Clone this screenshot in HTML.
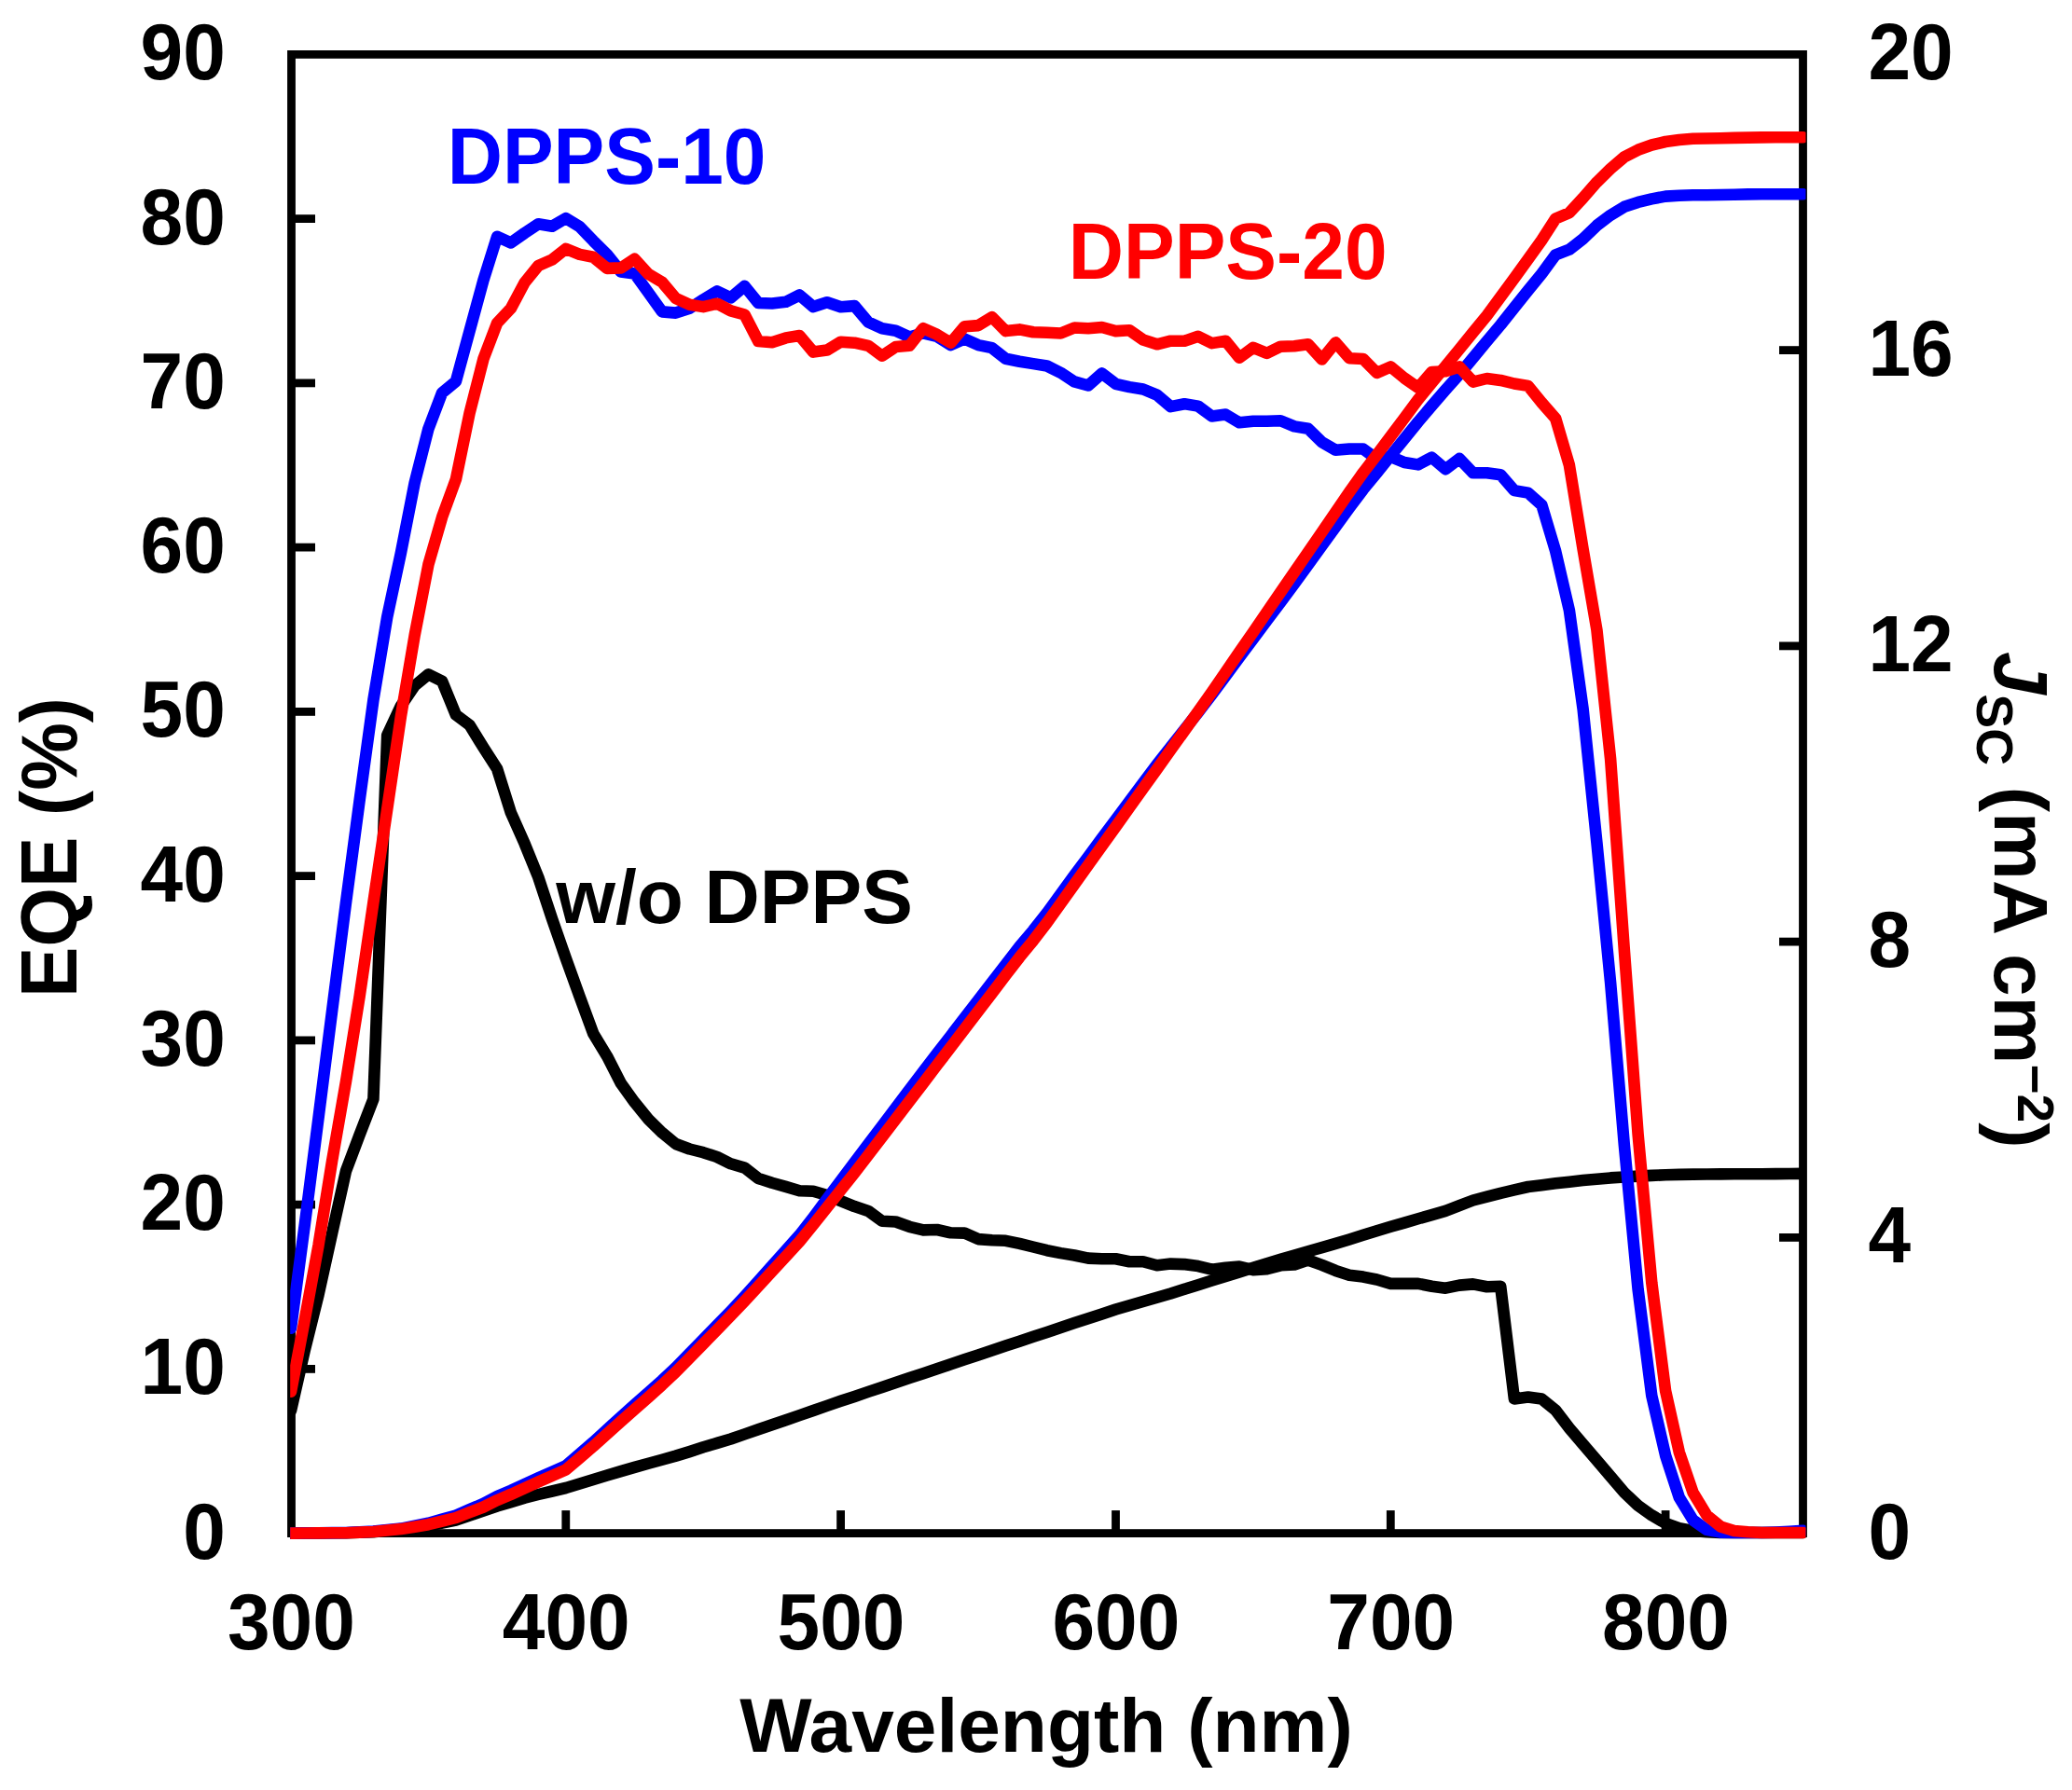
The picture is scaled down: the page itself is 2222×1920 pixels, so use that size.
<!DOCTYPE html>
<html><head><meta charset="utf-8"><title>EQE</title>
<style>html,body{margin:0;padding:0;background:#fff;width:2222px;height:1920px;overflow:hidden}svg{display:block}text{font-family:"Liberation Sans",sans-serif;font-weight:bold}</style></head><body>
<svg width="2222" height="1920" viewBox="0 0 2222 1920">
<rect width="2222" height="1920" fill="#fff"/>
<line x1="312.5" y1="1468.4" x2="338.0" y2="1468.4" stroke="#000" stroke-width="8.8"/>
<line x1="312.5" y1="1292.1" x2="338.0" y2="1292.1" stroke="#000" stroke-width="8.8"/>
<line x1="312.5" y1="1115.9" x2="338.0" y2="1115.9" stroke="#000" stroke-width="8.8"/>
<line x1="312.5" y1="939.6" x2="338.0" y2="939.6" stroke="#000" stroke-width="8.8"/>
<line x1="312.5" y1="763.4" x2="338.0" y2="763.4" stroke="#000" stroke-width="8.8"/>
<line x1="312.5" y1="587.1" x2="338.0" y2="587.1" stroke="#000" stroke-width="8.8"/>
<line x1="312.5" y1="410.9" x2="338.0" y2="410.9" stroke="#000" stroke-width="8.8"/>
<line x1="312.5" y1="234.6" x2="338.0" y2="234.6" stroke="#000" stroke-width="8.8"/>
<line x1="1933.5" y1="1327.4" x2="1908.0" y2="1327.4" stroke="#000" stroke-width="8.8"/>
<line x1="1933.5" y1="1010.1" x2="1908.0" y2="1010.1" stroke="#000" stroke-width="8.8"/>
<line x1="1933.5" y1="692.9" x2="1908.0" y2="692.9" stroke="#000" stroke-width="8.8"/>
<line x1="1933.5" y1="375.6" x2="1908.0" y2="375.6" stroke="#000" stroke-width="8.8"/>
<line x1="606.8" y1="1644.6" x2="606.8" y2="1620.1" stroke="#000" stroke-width="8.8"/>
<line x1="901.6" y1="1644.6" x2="901.6" y2="1620.1" stroke="#000" stroke-width="8.8"/>
<line x1="1196.5" y1="1644.6" x2="1196.5" y2="1620.1" stroke="#000" stroke-width="8.8"/>
<line x1="1491.3" y1="1644.6" x2="1491.3" y2="1620.1" stroke="#000" stroke-width="8.8"/>
<line x1="1786.1" y1="1644.6" x2="1786.1" y2="1620.1" stroke="#000" stroke-width="8.8"/>
<rect x="312.5" y="58.4" width="1621.0" height="1586.1999999999998" fill="none" stroke="#000" stroke-width="8.8"/>
<clipPath id="c"><rect x="311.2" y="54.0" width="1625.3" height="1596.9999999999998"/></clipPath>
<g clip-path="url(#c)">
<polyline points="312.0,1644.6 326.7,1644.5 341.5,1644.4 356.2,1644.3 371.0,1644.2 385.7,1643.7 400.4,1643.2 415.2,1641.8 429.9,1640.5 444.7,1638.5 459.4,1636.5 474.1,1633.5 488.9,1630.5 503.6,1625.5 518.4,1620.5 533.1,1615.5 547.9,1611.1 562.6,1606.7 577.3,1603.0 592.1,1599.5 606.8,1596.0 621.6,1591.5 636.3,1587.0 651.0,1582.5 665.8,1578.1 680.5,1573.9 695.3,1569.8 710.0,1565.7 724.7,1561.6 739.5,1557.1 754.2,1552.3 769.0,1547.9 783.7,1543.5 798.5,1538.4 813.2,1533.3 827.9,1528.2 842.7,1523.2 857.4,1518.1 872.2,1513.0 886.9,1507.9 901.6,1502.8 916.4,1497.9 931.1,1492.9 945.9,1488.0 960.6,1483.0 975.3,1478.1 990.1,1473.2 1004.8,1468.2 1019.6,1463.3 1034.3,1458.3 1049.0,1453.4 1063.8,1448.5 1078.5,1443.6 1093.3,1438.7 1108.0,1433.8 1122.8,1428.9 1137.5,1424.0 1152.2,1419.1 1167.0,1414.2 1181.7,1409.4 1196.5,1404.5 1211.2,1400.2 1225.9,1396.0 1240.7,1391.8 1255.4,1387.5 1270.2,1382.8 1284.9,1378.2 1299.6,1373.6 1314.4,1368.9 1329.1,1364.4 1343.9,1359.8 1358.6,1355.3 1373.3,1350.8 1388.1,1346.6 1402.8,1342.3 1417.6,1338.1 1432.3,1333.9 1447.0,1329.4 1461.8,1324.8 1476.5,1320.3 1491.3,1315.8 1506.0,1311.6 1520.8,1307.3 1535.5,1303.1 1550.2,1298.9 1565.0,1293.2 1579.7,1287.5 1594.5,1283.7 1609.2,1279.8 1623.9,1276.4 1638.7,1273.0 1653.4,1271.2 1668.2,1269.3 1682.9,1267.7 1697.6,1266.1 1712.4,1264.8 1727.1,1263.4 1741.9,1262.5 1756.6,1261.6 1771.3,1260.9 1786.1,1260.3 1800.8,1259.9 1815.6,1259.6 1830.3,1259.5 1845.1,1259.4 1859.8,1259.3 1874.5,1259.2 1889.3,1259.2 1904.0,1259.1 1918.8,1259.0 1933.5,1258.9" fill="none" stroke="#000" stroke-width="12.6" stroke-linejoin="round" stroke-linecap="round"/>
<polyline points="312.0,1513.0 326.7,1448.7 341.5,1389.0 356.2,1322.5 371.0,1256.0 385.7,1217.0 400.4,1179.0 415.2,788.6 429.9,757.2 444.7,735.5 459.4,723.4 474.1,730.6 488.9,766.8 503.6,777.7 518.4,801.8 533.1,824.7 547.9,871.8 562.6,904.8 577.3,941.0 592.1,985.7 606.8,1027.9 621.6,1068.9 636.3,1108.7 651.0,1132.9 665.8,1161.8 680.5,1182.3 695.3,1200.4 710.0,1214.9 724.7,1227.0 739.5,1232.5 754.2,1236.2 769.0,1241.0 783.7,1248.3 798.5,1252.6 813.2,1263.9 827.9,1268.8 842.7,1272.9 857.4,1277.2 872.2,1277.7 886.9,1282.0 901.6,1288.1 916.4,1294.1 931.1,1298.9 945.9,1309.8 960.6,1310.5 975.3,1315.8 990.1,1319.4 1004.8,1319.0 1019.6,1322.3 1034.3,1322.6 1049.0,1329.1 1063.8,1330.3 1078.5,1330.8 1093.3,1333.9 1108.0,1337.5 1122.8,1341.2 1137.5,1344.1 1152.2,1346.5 1167.0,1349.6 1181.7,1350.3 1196.5,1350.3 1211.2,1353.2 1225.9,1353.2 1240.7,1357.3 1255.4,1355.6 1270.2,1356.1 1284.9,1358.1 1299.6,1361.7 1314.4,1359.7 1329.1,1358.5 1343.9,1362.2 1358.6,1361.2 1373.3,1357.3 1388.1,1356.4 1402.8,1351.5 1417.6,1356.9 1432.3,1362.9 1447.0,1367.7 1461.8,1369.6 1476.5,1372.5 1491.3,1376.9 1506.0,1376.9 1520.8,1376.9 1535.5,1379.8 1550.2,1381.7 1565.0,1378.6 1579.7,1377.4 1594.5,1380.3 1609.2,1379.8 1623.9,1500.4 1638.7,1498.5 1653.4,1500.6 1668.2,1512.7 1682.9,1531.8 1697.6,1549.1 1712.4,1566.4 1727.1,1583.7 1741.9,1601.0 1756.6,1614.9 1771.3,1625.3 1786.1,1633.9 1800.8,1639.1 1815.6,1641.9 1830.3,1643.3 1845.1,1644.0 1859.8,1644.0 1874.5,1644.0 1889.3,1644.0 1904.0,1644.0 1918.8,1644.0 1933.5,1644.0" fill="none" stroke="#000" stroke-width="12.6" stroke-linejoin="round" stroke-linecap="round"/>
<polyline points="312.0,1644.6 326.7,1644.4 341.5,1644.3 356.2,1644.1 371.0,1644.0 385.7,1643.3 400.4,1642.6 415.2,1641.1 429.9,1639.6 444.7,1636.7 459.4,1633.7 474.1,1629.6 488.9,1625.5 503.6,1619.1 518.4,1612.8 533.1,1605.0 547.9,1598.7 562.6,1592.0 577.3,1585.3 592.1,1578.8 606.8,1572.3 621.6,1559.5 636.3,1546.8 651.0,1533.3 665.8,1519.9 680.5,1506.8 695.3,1493.8 710.0,1480.6 724.7,1466.8 739.5,1451.7 754.2,1436.6 769.0,1421.4 783.7,1406.3 798.5,1390.5 813.2,1374.1 827.9,1357.7 842.7,1341.3 857.4,1324.8 872.2,1305.8 886.9,1286.1 901.6,1266.5 916.4,1246.9 931.1,1227.4 945.9,1207.9 960.6,1188.4 975.3,1168.8 990.1,1149.3 1004.8,1130.2 1019.6,1111.0 1034.3,1091.9 1049.0,1072.8 1063.8,1053.6 1078.5,1034.5 1093.3,1015.4 1108.0,998.0 1122.8,979.2 1137.5,959.0 1152.2,938.8 1167.0,919.0 1181.7,899.1 1196.5,879.3 1211.2,859.5 1225.9,839.8 1240.7,820.1 1255.4,801.4 1270.2,782.6 1284.9,764.0 1299.6,744.9 1314.4,725.0 1329.1,705.1 1343.9,685.3 1358.6,665.6 1373.3,645.9 1388.1,625.9 1402.8,605.7 1417.6,585.4 1432.3,565.0 1447.0,544.7 1461.8,525.1 1476.5,507.2 1491.3,488.9 1506.0,470.8 1520.8,452.5 1535.5,435.2 1550.2,418.1 1565.0,401.6 1579.7,383.9 1594.5,366.0 1609.2,348.5 1623.9,330.0 1638.7,311.5 1653.4,293.5 1668.2,273.3 1682.9,267.7 1697.6,256.3 1712.4,241.9 1727.1,230.8 1741.9,221.8 1756.6,216.9 1771.3,213.4 1786.1,210.6 1800.8,209.8 1815.6,209.3 1830.3,209.2 1845.1,209.0 1859.8,208.7 1874.5,208.4 1889.3,208.3 1904.0,208.2 1918.8,208.2 1933.5,208.3" fill="none" stroke="#0000ff" stroke-width="12.6" stroke-linejoin="round" stroke-linecap="round"/>
<polyline points="312.0,1424.7 326.7,1314.3 341.5,1199.2 356.2,1083.6 371.0,968.1 385.7,857.8 400.4,750.9 415.2,661.9 429.9,593.1 444.7,517.8 459.4,459.9 474.1,421.3 488.9,409.2 503.6,355.0 518.4,300.7 533.1,253.8 547.9,260.4 562.6,250.0 577.3,240.3 592.1,242.7 606.8,234.1 621.6,243.2 636.3,258.4 651.0,272.9 665.8,291.5 680.5,293.4 695.3,313.9 710.0,334.4 724.7,335.6 739.5,330.8 754.2,321.4 769.0,312.4 783.7,319.4 798.5,306.9 813.2,325.0 827.9,325.5 842.7,323.8 857.4,316.5 872.2,329.1 886.9,324.2 901.6,329.3 916.4,328.1 931.1,345.5 945.9,352.2 960.6,354.7 975.3,361.5 990.1,357.3 1004.8,360.8 1019.6,370.1 1034.3,363.6 1049.0,370.1 1063.8,373.2 1078.5,384.8 1093.3,387.7 1108.0,390.1 1122.8,392.5 1137.5,399.8 1152.2,409.4 1167.0,413.5 1181.7,400.5 1196.5,411.8 1211.2,415.1 1225.9,417.5 1240.7,423.6 1255.4,436.1 1270.2,433.2 1284.9,435.6 1299.6,446.5 1314.4,444.6 1329.1,453.3 1343.9,451.8 1358.6,451.8 1373.3,451.3 1388.1,457.4 1402.8,459.8 1417.6,474.3 1432.3,482.7 1447.0,481.5 1461.8,481.5 1476.5,492.4 1491.3,489.9 1506.0,496.0 1520.8,498.4 1535.5,490.7 1550.2,503.2 1565.0,491.9 1579.7,507.3 1594.5,507.3 1609.2,509.2 1623.9,526.1 1638.7,528.6 1653.4,541.8 1668.2,591.3 1682.9,654.7 1697.6,760.3 1712.4,903.7 1727.1,1053.9 1741.9,1228.7 1756.6,1382.9 1771.3,1497.1 1786.1,1561.2 1800.8,1606.2 1815.6,1630.5 1830.3,1640.9 1845.1,1643.6 1859.8,1644.0 1874.5,1644.0 1889.3,1644.0 1904.0,1643.6 1918.8,1642.9 1933.5,1641.9" fill="none" stroke="#0000ff" stroke-width="12.6" stroke-linejoin="round" stroke-linecap="round"/>
<polyline points="312.0,1644.6 326.7,1644.5 341.5,1644.4 356.2,1644.3 371.0,1644.2 385.7,1643.6 400.4,1643.0 415.2,1641.5 429.9,1640.1 444.7,1637.7 459.4,1635.2 474.1,1631.6 488.9,1628.0 503.6,1622.2 518.4,1616.5 533.1,1609.2 547.9,1602.9 562.6,1596.2 577.3,1589.5 592.1,1583.0 606.8,1576.5 621.6,1563.9 636.3,1551.3 651.0,1538.0 665.8,1524.8 680.5,1511.8 695.3,1498.7 710.0,1485.5 724.7,1471.7 739.5,1456.6 754.2,1441.5 769.0,1426.3 783.7,1411.2 798.5,1395.6 813.2,1379.7 827.9,1363.7 842.7,1347.7 857.4,1331.8 872.2,1313.6 886.9,1295.1 901.6,1276.6 916.4,1258.1 931.1,1239.0 945.9,1219.7 960.6,1200.4 975.3,1181.1 990.1,1161.8 1004.8,1142.5 1019.6,1123.2 1034.3,1103.9 1049.0,1084.6 1063.8,1065.3 1078.5,1046.0 1093.3,1026.8 1108.0,1008.9 1122.8,989.7 1137.5,969.1 1152.2,948.5 1167.0,927.9 1181.7,907.3 1196.5,886.7 1211.2,866.1 1225.9,845.6 1240.7,825.0 1255.4,804.4 1270.2,783.8 1284.9,763.2 1299.6,742.3 1314.4,720.8 1329.1,699.4 1343.9,678.0 1358.6,656.5 1373.3,635.1 1388.1,613.6 1402.8,592.2 1417.6,570.7 1432.3,549.3 1447.0,527.9 1461.8,507.0 1476.5,487.8 1491.3,468.1 1506.0,448.4 1520.8,428.5 1535.5,410.6 1550.2,392.8 1565.0,374.6 1579.7,356.5 1594.5,338.5 1609.2,318.5 1623.9,298.5 1638.7,278.0 1653.4,257.5 1668.2,234.5 1682.9,228.2 1697.6,212.4 1712.4,195.4 1727.1,181.0 1741.9,168.4 1756.6,160.8 1771.3,155.5 1786.1,152.0 1800.8,150.0 1815.6,148.7 1830.3,148.5 1845.1,148.3 1859.8,147.9 1874.5,147.6 1889.3,147.4 1904.0,147.3 1918.8,147.3 1933.5,147.3" fill="none" stroke="#ff0000" stroke-width="12.6" stroke-linejoin="round" stroke-linecap="round"/>
<polyline points="312.0,1492.7 326.7,1416.0 341.5,1335.8 356.2,1244.7 371.0,1160.0 385.7,1068.3 400.4,967.9 415.2,868.0 429.9,768.5 444.7,681.2 459.4,605.6 474.1,554.7 488.9,514.2 503.6,443.0 518.4,385.1 533.1,346.5 547.9,330.8 562.6,303.1 577.3,285.0 592.1,278.5 606.8,266.9 621.6,272.9 636.3,275.8 651.0,287.9 665.8,287.4 680.5,277.7 695.3,293.9 710.0,302.6 724.7,320.0 739.5,326.7 754.2,329.1 769.0,325.7 783.7,333.4 798.5,337.5 813.2,366.0 827.9,367.2 842.7,362.4 857.4,360.0 872.2,377.6 886.9,375.6 901.6,366.7 916.4,367.7 931.1,370.8 945.9,381.7 960.6,372.0 975.3,370.8 990.1,352.2 1004.8,358.8 1019.6,367.7 1034.3,350.3 1049.0,349.1 1063.8,340.2 1078.5,355.1 1093.3,353.4 1108.0,356.3 1122.8,356.8 1137.5,357.5 1152.2,351.5 1167.0,352.2 1181.7,351.0 1196.5,355.1 1211.2,354.3 1225.9,364.5 1240.7,369.3 1255.4,365.7 1270.2,365.7 1284.9,360.8 1299.6,368.1 1314.4,365.7 1329.1,383.8 1343.9,372.9 1358.6,378.9 1373.3,371.7 1388.1,371.2 1402.8,369.3 1417.6,385.5 1432.3,367.4 1447.0,384.2 1461.8,385.0 1476.5,399.9 1491.3,393.4 1506.0,405.5 1520.8,415.9 1535.5,399.0 1550.2,398.2 1565.0,393.4 1579.7,409.6 1594.5,406.0 1609.2,407.9 1623.9,411.5 1638.7,413.9 1653.4,432.0 1668.2,448.9 1682.9,498.9 1697.6,588.9 1712.4,675.5 1727.1,814.0 1741.9,1019.7 1756.6,1216.6 1771.3,1375.9 1786.1,1491.9 1800.8,1557.7 1815.6,1601.0 1830.3,1625.3 1845.1,1637.4 1859.8,1641.9 1874.5,1643.3 1889.3,1644.0 1904.0,1644.0 1918.8,1644.0 1933.5,1644.0" fill="none" stroke="#ff0000" stroke-width="12.6" stroke-linejoin="round" stroke-linecap="round"/>
</g>
<text transform="translate(241.8,1671.5) scale(1,1.036)" font-size="82" text-anchor="end">0</text>
<text transform="translate(241.8,1495.3) scale(1,1.036)" font-size="82" text-anchor="end">10</text>
<text transform="translate(241.8,1319.0) scale(1,1.036)" font-size="82" text-anchor="end">20</text>
<text transform="translate(241.8,1142.8) scale(1,1.036)" font-size="82" text-anchor="end">30</text>
<text transform="translate(241.8,966.5) scale(1,1.036)" font-size="82" text-anchor="end">40</text>
<text transform="translate(241.8,790.3) scale(1,1.036)" font-size="82" text-anchor="end">50</text>
<text transform="translate(241.8,614.0) scale(1,1.036)" font-size="82" text-anchor="end">60</text>
<text transform="translate(241.8,437.8) scale(1,1.036)" font-size="82" text-anchor="end">70</text>
<text transform="translate(241.8,261.5) scale(1,1.036)" font-size="82" text-anchor="end">80</text>
<text transform="translate(241.8,85.3) scale(1,1.036)" font-size="82" text-anchor="end">90</text>
<text transform="translate(2003.5,1671.5) scale(1,1.036)" font-size="82" text-anchor="start">0</text>
<text transform="translate(2003.5,1354.3) scale(1,1.036)" font-size="82" text-anchor="start">4</text>
<text transform="translate(2003.5,1037.0) scale(1,1.036)" font-size="82" text-anchor="start">8</text>
<text transform="translate(2003.5,719.8) scale(1,1.036)" font-size="82" text-anchor="start">12</text>
<text transform="translate(2003.5,402.5) scale(1,1.036)" font-size="82" text-anchor="start">16</text>
<text transform="translate(2003.5,85.3) scale(1,1.036)" font-size="82" text-anchor="start">20</text>
<text transform="translate(312.4,1769.3) scale(1,1.036)" font-size="82" text-anchor="middle">300</text>
<text transform="translate(607.2,1769.3) scale(1,1.036)" font-size="82" text-anchor="middle">400</text>
<text transform="translate(902.0,1769.3) scale(1,1.036)" font-size="82" text-anchor="middle">500</text>
<text transform="translate(1196.9,1769.3) scale(1,1.036)" font-size="82" text-anchor="middle">600</text>
<text transform="translate(1491.7,1769.3) scale(1,1.036)" font-size="82" text-anchor="middle">700</text>
<text transform="translate(1786.5,1769.3) scale(1,1.036)" font-size="82" text-anchor="middle">800</text>
<text x="1122" y="1879" font-size="82" text-anchor="middle">Wavelength (nm)</text>
<text transform="translate(81.9,909) rotate(-90) scale(1,1.036)" font-size="81.6" text-anchor="middle">EQE (%)</text>
<text transform="translate(2139,0) rotate(90)" x="699" y="0" font-size="82" text-anchor="start"><tspan font-style="italic">J</tspan><tspan font-size="55" dy="19.5">SC</tspan><tspan dy="-19.5"> (mA cm</tspan><tspan font-size="55" dy="-24.9">−2</tspan><tspan dy="24.9">)</tspan></text>
<text transform="translate(479.7,196.9) scale(1,1.036)" font-size="82" fill="#0000ff">DPPS-10</text>
<text transform="translate(1145.8,298.6) scale(1,1.036)" font-size="82" fill="#ff0000">DPPS-20</text>
<text x="596.2" y="990.4" font-size="82" fill="#000">w/o DPPS</text>
</svg></body></html>
